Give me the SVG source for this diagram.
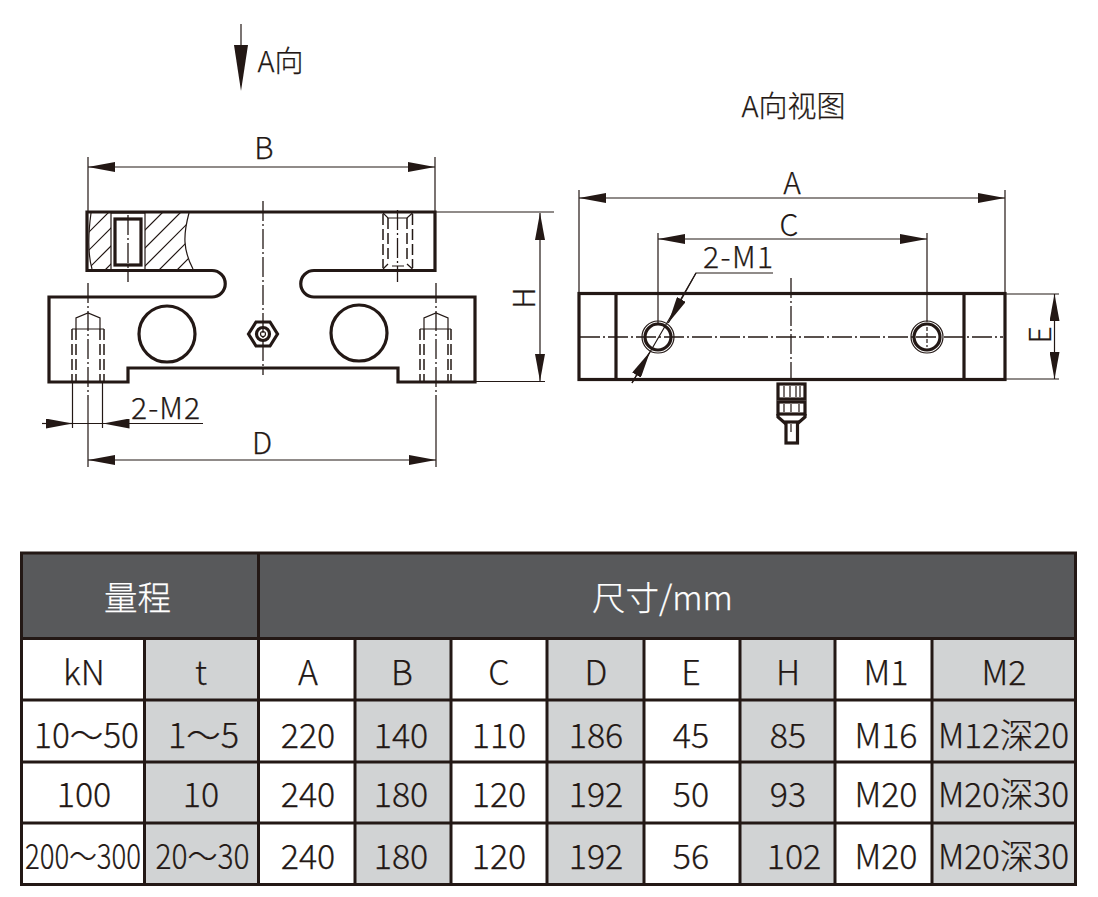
<svg xmlns="http://www.w3.org/2000/svg" width="1098" height="897" viewBox="0 0 1098 897">
<style>
text{font-family:"Noto Sans CJK SC","Noto Sans",sans-serif;font-weight:300;fill:#231815;stroke:#231815;stroke-width:.25;text-anchor:middle}
.lb{font-size:30px}
.ti{font-size:29px}
.tb{font-size:34px}
.hd{font-size:33.500px;fill:#fff;stroke:#fff}
.th{fill:none;stroke:#231815;stroke-width:3.2;stroke-linejoin:miter}
.tn{fill:none;stroke:#231815;stroke-width:1.2}
.cl{fill:none;stroke:#231815;stroke-width:1.3;stroke-dasharray:20 3 2 3}
.da{fill:none;stroke:#231815;stroke-width:1.5;stroke-dasharray:11 4}
.dm{fill:none;stroke:#231815;stroke-width:1.2;marker-start:url(#ar);marker-end:url(#ar)}
.ld{fill:none;stroke:#231815;stroke-width:1.2;marker-end:url(#ar)}
.gr{fill:#d1d3d4}
.gl{stroke:#231815;stroke-width:3;fill:none}
</style>
<defs>
<marker id="ar" markerUnits="userSpaceOnUse" viewBox="0 0 27 10" refX="27" refY="5" markerWidth="27" markerHeight="10" orient="auto-start-reverse"><path d="M0,0L27,5L0,10Z" fill="#231815"/></marker>
<clipPath id="hc"><path d="M91,213C88,235 88,255 92,269H111V213ZM145,213H189C183,235 183,250 193,269H145Z"/></clipPath>
</defs>
<rect width="1098" height="897" fill="#fff"/>

<g id="direction-arrow">
<line x1="241" y1="24" x2="241" y2="50" class="tn" stroke-width="1.500"/>
<path d="M234,45H248L241,91Z" fill="#231815"/>
<text x="280.500" y="72" class="ti">A向</text>
<text x="793.500" y="117" class="ti">A向视图</text>
</g>

<g id="side-view">
<g clip-path="url(#hc)" class="tn">
<path d="M321,0L0,321M339,0L0,339M357,0L0,357M375,0L0,375M393,0L0,393M411,0L0,411M429,0L0,429M447,0L0,447"/>
</g>
<path class="tn" d="M91,213C88,235 88,255 92,269M189,213C183,235 183,250 193,269"/>
<rect x="111" y="213" width="34" height="57" class="tn"/>
<rect x="115" y="219" width="26" height="46" class="th"/>
<path class="th" d="M87,212H435V270.500H314A13.250,13.250 0 0 0 314,297H475V382H398V368H128V382H49V297H212A13.250,13.250 0 0 0 212,270.500H87Z"/>
<circle cx="167" cy="334" r="28" class="th"/>
<circle cx="359" cy="333" r="28" class="th"/>
<path class="th" d="M248.500,334L256,322H270L277.500,334L270,346H256Z"/>
<circle cx="263" cy="334" r="6.500" class="th"/>
<circle cx="263" cy="334" r="2.500" class="tn" stroke-width="1.500"/>
<line x1="263" y1="201" x2="263" y2="375" class="cl"/>
<line x1="128" y1="215" x2="128" y2="282" class="cl"/>
<line x1="397.500" y1="210" x2="397.500" y2="282" class="cl"/>
<path class="da" d="M383,214V268M412.500,214V268M388,218V263M407,218V263"/>
<path class="tn" d="M383,213L388,218H407L412.500,213M383,269L388,264M412.500,269L407,264M392,266H404"/>
<g id="hole-right">
<path class="da" d="M420,329V381M451,329V381"/>
<path class="da" d="M424,329V381M448,329V381"/>
<path class="tn" d="M424,329V318L436,313L448,318V329M420,329H451" stroke-width="1.500"/>
<line x1="436" y1="283" x2="436" y2="400" class="cl"/>
</g>
<g id="hole-left">
<path class="da" d="M72,329V381M104,329V381"/>
<path class="da" d="M76,329V381M100,329V381"/>
<path class="tn" d="M76,329V318L88,313L100,318V329M72,329H104" stroke-width="1.500"/>
<line x1="88" y1="283" x2="88" y2="400" class="cl"/>
</g>
</g>

<g id="side-dimensions">
<path class="tn" d="M88,157V211M435,157V211M88,400V467M436,400V467M436,212H554M476,381.500H545M72.500,382V428M102.500,382V428M72.500,423.500H102.500"/>
<line x1="88" y1="167" x2="435" y2="167" class="dm"/>
<text x="264" y="159" class="lb">B</text>
<line x1="88" y1="460" x2="436" y2="460" class="dm"/>
<text x="262" y="454" class="lb">D</text>
<line x1="540" y1="213" x2="540" y2="381" class="dm"/>
<text x="0" y="0" class="lb" transform="translate(535,298) rotate(-90)">H</text>
<line x1="42" y1="423.500" x2="72.500" y2="423.500" class="ld"/>
<line x1="203" y1="423.500" x2="102.500" y2="423.500" class="ld"/>
<text x="165.500" y="419" class="lb" textLength="69" lengthAdjust="spacing">2-M2</text>
</g>

<g id="end-view">
<rect x="579" y="293.500" width="426" height="86" class="th"/>
<path class="th" d="M616,293.500V379.500M964,293.500V379.500"/>
<line x1="580" y1="337" x2="1003" y2="337" class="cl"/>
<line x1="791" y1="278" x2="791" y2="380" class="cl"/>
<circle cx="658" cy="337" r="13" class="th"/>
<circle cx="658" cy="337" r="16" class="tn"/>
<circle cx="927" cy="337" r="13" class="th"/>
<circle cx="927" cy="337" r="16" class="tn"/>
<path class="tn" d="M927,327V347" stroke-dasharray="4 2"/>
<g id="connector-plug">
<rect x="778" y="384" width="27" height="15" class="th"/>
<rect x="778" y="402" width="27" height="12" class="th"/>
<path class="th" d="M778,414V417L786,424M805,414V417L797,424"/>
<rect x="786" y="422" width="11.500" height="21" class="th"/>
<path class="tn" stroke-width="2.500" d="M784,386V397M790,386V397M796,386V397M800,386V397M784,404V412M799,404V412M791,404V412M791,424V432"/>
</g>
</g>

<g id="end-dimensions">
<path class="tn" d="M579,190V293M1005,190V293M658,233V325M927,233V322M1006,294H1059M1006,379H1059"/>
<line x1="579" y1="198" x2="1005" y2="198" class="dm"/>
<text x="792" y="194" class="lb">A</text>
<line x1="658" y1="239" x2="927" y2="239" class="dm"/>
<text x="789" y="236" class="lb">C</text>
<line x1="1054.500" y1="294" x2="1054.500" y2="379" class="dm"/>
<text x="0" y="0" class="lb" transform="translate(1051,335) rotate(-90)">E</text>
<path class="tn" d="M773,273H696L632,383"/>
<line x1="696" y1="273" x2="668.300" y2="323" class="ld"/>
<line x1="632" y1="383" x2="650" y2="351.700" class="ld"/>
<text x="738" y="268" class="lb" textLength="70" lengthAdjust="spacing">2-M1</text>
</g>

<g id="table">
<rect x="21" y="553" width="1055" height="85.500" fill="#58595b"/>
<rect x="144" y="638" width="114" height="246" class="gr"/>
<rect x="355" y="638" width="96" height="246" class="gr"/>
<rect x="547" y="638" width="97" height="246" class="gr"/>
<rect x="740" y="638" width="95" height="246" class="gr"/>
<rect x="932" y="638" width="144" height="246" class="gr"/>
<path class="gl" d="M21,638.500H1076M21,700H1076M21,762H1076M21,823H1076M144.500,638V884M258.500,553V884M355,638V884M451,638V884M547,638V884M644,638V884M740,638V884M835,638V884M932,638V884"/>
<rect x="21.500" y="553" width="1054" height="331.500" class="gl"/>

<text x="137.500" y="610" class="hd">量程</text>
<text x="662.500" y="610" class="hd">尺寸/mm</text>

<text x="84" y="685" class="tb">kN</text>
<text x="201" y="685" class="tb">t</text>
<text x="308" y="685" class="tb">A</text>
<text x="402" y="685" class="tb">B</text>
<text x="499" y="685" class="tb">C</text>
<text x="596" y="685" class="tb">D</text>
<text x="691" y="685" class="tb">E</text>
<text x="788" y="685" class="tb">H</text>
<text x="886" y="685" class="tb">M1</text>
<text x="1004" y="685" class="tb">M2</text>

<text x="86.500" y="748" class="tb" textLength="105" lengthAdjust="spacingAndGlyphs">10～50</text>
<text x="203.500" y="748" class="tb" textLength="71" lengthAdjust="spacingAndGlyphs">1～5</text>
<text x="308" y="748" class="tb">220</text>
<text x="401" y="748" class="tb">140</text>
<text x="499" y="748" class="tb">110</text>
<text x="596" y="748" class="tb">186</text>
<text x="691" y="748" class="tb">45</text>
<text x="788" y="748" class="tb">85</text>
<text x="886" y="748" class="tb">M16</text>
<text x="1003.500" y="748" class="tb" textLength="131" lengthAdjust="spacingAndGlyphs">M12深20</text>

<text x="84" y="807" class="tb">100</text>
<text x="201" y="807" class="tb">10</text>
<text x="308" y="807" class="tb">240</text>
<text x="401" y="807" class="tb">180</text>
<text x="499" y="807" class="tb">120</text>
<text x="596" y="807" class="tb">192</text>
<text x="691" y="807" class="tb">50</text>
<text x="788" y="807" class="tb">93</text>
<text x="886" y="807" class="tb">M20</text>
<text x="1003.500" y="807" class="tb" textLength="131" lengthAdjust="spacingAndGlyphs">M20深30</text>

<text x="0" y="0" class="tb" transform="translate(83,869) scale(.81,1)">200～300</text>
<text x="0" y="0" class="tb" transform="translate(202.500,869) scale(.88,1)">20～30</text>
<text x="308" y="869" class="tb">240</text>
<text x="401" y="869" class="tb">180</text>
<text x="499" y="869" class="tb">120</text>
<text x="596" y="869" class="tb">192</text>
<text x="691" y="869" class="tb">56</text>
<text x="794" y="869" class="tb">102</text>
<text x="886" y="869" class="tb">M20</text>
<text x="1003.500" y="869" class="tb" textLength="131" lengthAdjust="spacingAndGlyphs">M20深30</text>
</g>
</svg>
